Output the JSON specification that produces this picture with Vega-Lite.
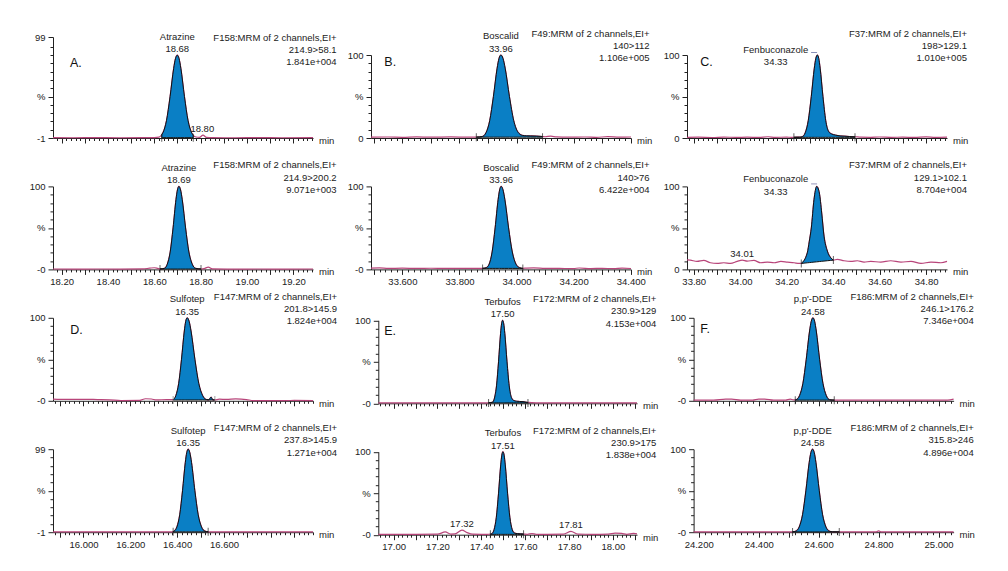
{
"$schema":"https://vega.github.io/schema/vega-lite/v6.json",
"padding":{"left":29,"top":28,"right":5,"bottom":5},
"background":"white",
"config":{
 "view":{"stroke":null},
 "font":"Liberation Sans",
 "axis":{"labelFont":"Liberation Sans","labelFontSize":9.5,"labelColor":"#222","domainColor":"#222","tickColor":"#222","tickWidth":1,"domainWidth":1,"grid":false,"titleFont":"Liberation Sans","titleFontSize":9.5,"titleFontWeight":"normal","titleColor":"#222","labelOverlap":false,"labelFlush":false},
 "axisX":{"titleAlign":"left","titleBaseline":"middle","titleY":2.5,"labelPadding":2},
 "axisY":{"labelPadding":3},
 "text":{"font":"Liberation Sans","fontSize":9.5,"color":"#222"}
},
"datasets":{
"A":[
{"k":"t","t":18.1625,"v":0.4},{"k":"t","t":18.25,"v":0.3},{"k":"t","t":18.35,"v":0.5},{"k":"t","t":18.45,"v":0.3},{"k":"t","t":18.55,"v":0.4},{"k":"t","t":18.6,"v":0.5},{"k":"t","t":18.62,"v":1.0},
{"k":"p","t":18.632,"v":3.9,"b":0.4},{"k":"p","t":18.637,"v":6.3,"b":0.4},{"k":"p","t":18.6525,"v":21,"b":0.4},{"k":"p","t":18.668,"v":50,"b":0.4},{"k":"p","t":18.6835,"v":84.1,"b":0.4},{"k":"p","t":18.6912,"v":95.8,"b":0.4},{"k":"p","t":18.699,"v":100,"b":0.4},{"k":"p","t":18.7068,"v":95.8,"b":0.4},{"k":"p","t":18.7145,"v":84.1,"b":0.4},{"k":"p","t":18.73,"v":50,"b":0.4},{"k":"p","t":18.7455,"v":21,"b":0.4},{"k":"p","t":18.761,"v":6.3,"b":0.4},{"k":"p","t":18.768,"v":3.2,"b":0.4},
{"k":"t","t":18.78,"v":1.2},{"k":"t","t":18.795,"v":0.8},{"k":"t","t":18.81,"v":3.5},{"k":"t","t":18.825,"v":0.8},{"k":"t","t":18.85,"v":0.4},{"k":"t","t":18.95,"v":0.3},{"k":"t","t":19.05,"v":0.4},{"k":"t","t":19.15,"v":0.3},{"k":"t","t":19.285,"v":0.4},
{"k":"i","t":18.632,"v":0.4},{"k":"i","t":18.768,"v":0.4},
{"k":"l","t":18.699,"v":100,"s":"Atrazine\n18.68"},{"k":"m","t":18.807,"v":3.5,"s":"18.80"},
{"k":"h","t":19.387,"v":95.7,"s":"F158:MRM of 2 channels,EI+\n214.9>58.1\n1.841e+004"},
{"k":"n","t":18.236,"v":90.3,"s":"A."}
],
"A2":[
{"k":"t","t":18.1625,"v":0.5},{"k":"t","t":18.25,"v":0.4},{"k":"t","t":18.35,"v":0.5},{"k":"t","t":18.45,"v":0.4},{"k":"t","t":18.55,"v":0.6},{"k":"t","t":18.58,"v":1.5},{"k":"t","t":18.6,"v":2.0},{"k":"t","t":18.615,"v":1.2},
{"k":"p","t":18.6245,"v":0.6,"b":0.4},{"k":"p","t":18.6435,"v":1.3,"b":0.4},{"k":"p","t":18.656,"v":6.3,"b":0.4},{"k":"p","t":18.6685,"v":21,"b":0.4},{"k":"p","t":18.681,"v":50,"b":0.4},{"k":"p","t":18.6935,"v":84.1,"b":0.4},{"k":"p","t":18.6998,"v":95.8,"b":0.4},{"k":"p","t":18.706,"v":100,"b":0.4},{"k":"p","t":18.7132,"v":95.8,"b":0.4},{"k":"p","t":18.7204,"v":84.1,"b":0.4},{"k":"p","t":18.7348,"v":50,"b":0.4},{"k":"p","t":18.7491,"v":21,"b":0.4},{"k":"p","t":18.7635,"v":6.3,"b":0.4},{"k":"p","t":18.7779,"v":1.3,"b":0.4},{"k":"p","t":18.8015,"v":0.5,"b":0.4},
{"k":"t","t":18.815,"v":1.0},{"k":"t","t":18.833,"v":2.8},{"k":"t","t":18.85,"v":0.6},{"k":"t","t":18.95,"v":0.4},{"k":"t","t":19.05,"v":0.5},{"k":"t","t":19.15,"v":0.4},{"k":"t","t":19.285,"v":0.5},
{"k":"i","t":18.6245,"v":0.4},{"k":"i","t":18.8015,"v":0.4},
{"k":"l","t":18.706,"v":100,"s":"Atrazine\n18.69"},
{"k":"h","t":19.387,"v":100,"s":"F158:MRM of 2 channels,EI+\n214.9>200.2\n9.071e+003"}
],
"B":[
{"k":"t","t":33.49,"v":1},{"k":"t","t":33.55,"v":1.2},{"k":"t","t":33.6,"v":0.8},{"k":"t","t":33.65,"v":1.3},{"k":"t","t":33.7,"v":1},{"k":"t","t":33.77,"v":1.3},{"k":"t","t":33.83,"v":1},{"k":"t","t":33.85,"v":1.1},
{"k":"p","t":33.859,"v":1.1,"b":1},{"k":"p","t":33.88,"v":1.8,"b":1},{"k":"p","t":33.893,"v":6.3,"b":1},{"k":"p","t":33.906,"v":21,"b":1},{"k":"p","t":33.919,"v":50,"b":1},{"k":"p","t":33.932,"v":84.1,"b":1},{"k":"p","t":33.9385,"v":95.8,"b":1},{"k":"p","t":33.945,"v":100,"b":1},{"k":"p","t":33.9525,"v":95.8,"b":1},{"k":"p","t":33.96,"v":84.1,"b":1},{"k":"p","t":33.975,"v":50,"b":1},{"k":"p","t":33.99,"v":21,"b":1},{"k":"p","t":34.005,"v":7,"b":1},{"k":"p","t":34.02,"v":3.2,"b":1},{"k":"p","t":34.035,"v":2.6,"b":1},{"k":"p","t":34.05,"v":2.5,"b":1},{"k":"p","t":34.07,"v":2.3,"b":1},{"k":"p","t":34.091,"v":1.8,"b":1},
{"k":"t","t":34.1,"v":1.5},{"k":"t","t":34.12,"v":2.2},{"k":"t","t":34.14,"v":1.3},{"k":"t","t":34.18,"v":1},{"k":"t","t":34.24,"v":1.2},{"k":"t","t":34.28,"v":0.8},{"k":"t","t":34.32,"v":1.6},{"k":"t","t":34.36,"v":1},{"k":"t","t":34.401,"v":1.2},
{"k":"i","t":33.859,"v":1},{"k":"i","t":34.091,"v":1},
{"k":"l","t":33.945,"v":100,"s":"Boscalid\n33.96"},
{"k":"h","t":34.466,"v":100,"s":"F49:MRM of 2 channels,EI+\n140>112\n1.106e+005"},
{"k":"n","t":33.5366,"v":91,"s":"B."}
],
"B2":[
{"k":"t","t":33.49,"v":1.5},{"k":"t","t":33.52,"v":1.8},{"k":"t","t":33.55,"v":1.2},{"k":"t","t":33.6,"v":1.5},{"k":"t","t":33.65,"v":1.2},{"k":"t","t":33.7,"v":1.4},{"k":"t","t":33.75,"v":1.2},{"k":"t","t":33.8,"v":1.3},{"k":"t","t":33.85,"v":1.2},{"k":"t","t":33.87,"v":1.2},
{"k":"p","t":33.881,"v":1.3,"b":1.2},{"k":"p","t":33.8935,"v":2,"b":1.2},{"k":"p","t":33.904,"v":6.3,"b":1.2},{"k":"p","t":33.9145,"v":21,"b":1.2},{"k":"p","t":33.925,"v":50,"b":1.2},{"k":"p","t":33.9355,"v":84.1,"b":1.2},{"k":"p","t":33.9408,"v":95.8,"b":1.2},{"k":"p","t":33.946,"v":100,"b":1.2},{"k":"p","t":33.9525,"v":95.8,"b":1.2},{"k":"p","t":33.959,"v":84.1,"b":1.2},{"k":"p","t":33.972,"v":50,"b":1.2},{"k":"p","t":33.985,"v":21,"b":1.2},{"k":"p","t":33.998,"v":6.3,"b":1.2},{"k":"p","t":34.011,"v":2,"b":1.2},{"k":"p","t":34.022,"v":1.3,"b":1.2},
{"k":"t","t":34.035,"v":1.6},{"k":"t","t":34.06,"v":1.8},{"k":"t","t":34.1,"v":1.3},{"k":"t","t":34.15,"v":1.2},{"k":"t","t":34.2,"v":1.0},{"k":"t","t":34.22,"v":1.7},{"k":"t","t":34.26,"v":1.0},{"k":"t","t":34.3,"v":1.3},{"k":"t","t":34.34,"v":0.9},{"k":"t","t":34.37,"v":1.5},{"k":"t","t":34.401,"v":1.1},
{"k":"i","t":33.881,"v":1.2},{"k":"i","t":34.022,"v":1.2},
{"k":"l","t":33.946,"v":100,"s":"Boscalid\n33.96"},
{"k":"h","t":34.466,"v":100,"s":"F49:MRM of 2 channels,EI+\n140>76\n6.422e+004"}
],
"C":[
{"k":"t","t":33.771,"v":0.8},{"k":"t","t":33.82,"v":1},{"k":"t","t":33.88,"v":0.6},{"k":"t","t":33.93,"v":1.1},{"k":"t","t":33.98,"v":0.7},{"k":"t","t":34.03,"v":1},{"k":"t","t":34.08,"v":0.7},{"k":"t","t":34.12,"v":1.5},{"k":"t","t":34.15,"v":0.8},{"k":"t","t":34.2,"v":1},{"k":"t","t":34.22,"v":0.8},
{"k":"p","t":34.231,"v":0.9,"b":0.8},{"k":"p","t":34.255,"v":1,"b":0.8},{"k":"p","t":34.267,"v":1.5,"b":0.8},{"k":"p","t":34.28,"v":6.3,"b":0.8},{"k":"p","t":34.293,"v":21,"b":0.8},{"k":"p","t":34.306,"v":50,"b":0.8},{"k":"p","t":34.319,"v":84.1,"b":0.8},{"k":"p","t":34.3255,"v":95.8,"b":0.8},{"k":"p","t":34.332,"v":100,"b":0.8},{"k":"p","t":34.338,"v":95.8,"b":0.8},{"k":"p","t":34.344,"v":84.1,"b":0.8},{"k":"p","t":34.356,"v":50,"b":0.8},{"k":"p","t":34.368,"v":21,"b":0.8},{"k":"p","t":34.38,"v":8,"b":0.8},{"k":"p","t":34.392,"v":5,"b":0.8},{"k":"p","t":34.41,"v":3.5,"b":0.8},{"k":"p","t":34.43,"v":2.5,"b":0.8},{"k":"p","t":34.45,"v":2.2,"b":0.8},{"k":"p","t":34.47,"v":1.8,"b":0.8},{"k":"p","t":34.494,"v":1.5,"b":0.8},
{"k":"t","t":34.52,"v":1},{"k":"t","t":34.56,"v":0.8},{"k":"t","t":34.6,"v":1.2},{"k":"t","t":34.65,"v":0.8},{"k":"t","t":34.7,"v":1},{"k":"t","t":34.75,"v":0.7},{"k":"t","t":34.8,"v":1.3},{"k":"t","t":34.84,"v":0.8},{"k":"t","t":34.89,"v":1},
{"k":"i","t":34.231,"v":0.8},{"k":"i","t":34.494,"v":0.8},
{"k":"l","t":34.153,"v":84,"s":"Fenbuconazole\n34.33"},
{"k":"d","t":34.318,"v":103},
{"k":"h","t":34.976,"v":100,"s":"F37:MRM of 2 channels,EI+\n198>129.1\n1.010e+005"},
{"k":"n","t":33.8284,"v":91.5,"s":"C."}
],
"C2":[
{"k":"t","t":33.771,"v":11.5},{"k":"t","t":33.7852,"v":11.2},{"k":"t","t":33.814,"v":9.6},{"k":"t","t":33.843,"v":10.8},{"k":"t","t":33.8718,"v":8},{"k":"t","t":33.9006,"v":7.2},{"k":"t","t":33.9294,"v":8},{"k":"t","t":33.958,"v":7.2},{"k":"t","t":33.987,"v":9.6},{"k":"t","t":34.0085,"v":11.2},{"k":"t","t":34.03,"v":10},{"k":"t","t":34.059,"v":10.8},{"k":"t","t":34.088,"v":8},{"k":"t","t":34.117,"v":8.8},{"k":"t","t":34.146,"v":8},{"k":"t","t":34.175,"v":9.6},{"k":"t","t":34.203,"v":8.8},{"k":"t","t":34.232,"v":8},{"k":"t","t":34.254,"v":7.2},
{"k":"p","t":34.2629,"v":7.2,"b":7.2},{"k":"p","t":34.2888,"v":20,"b":7.95},{"k":"p","t":34.2975,"v":34,"b":8.2},{"k":"p","t":34.3061,"v":50,"b":8.45},{"k":"p","t":34.3176,"v":84,"b":8.8},{"k":"p","t":34.3291,"v":100,"b":9.1},{"k":"p","t":34.3406,"v":92,"b":9.45},{"k":"p","t":34.3507,"v":68,"b":9.75},{"k":"p","t":34.3607,"v":40,"b":10},{"k":"p","t":34.3751,"v":22,"b":10.45},{"k":"p","t":34.3895,"v":14,"b":10.85},{"k":"p","t":34.401,"v":11.2,"b":11.2},
{"k":"t","t":34.418,"v":12},{"k":"t","t":34.447,"v":10.4},{"k":"t","t":34.476,"v":9.6},{"k":"t","t":34.504,"v":10.4},{"k":"t","t":34.533,"v":8.8},{"k":"t","t":34.562,"v":9.6},{"k":"t","t":34.605,"v":8.8},{"k":"t","t":34.648,"v":10.4},{"k":"t","t":34.692,"v":8.8},{"k":"t","t":34.735,"v":9.6},{"k":"t","t":34.778,"v":7.2},{"k":"t","t":34.821,"v":8.8},{"k":"t","t":34.864,"v":8},{"k":"t","t":34.89,"v":9.6},
{"k":"i","t":34.2629,"v":7.2},{"k":"i","t":34.401,"v":11.2},
{"k":"l","t":34.153,"v":86.3,"s":"Fenbuconazole\n34.33"},{"k":"m","t":34.0085,"v":11.2,"s":"34.01"},
{"k":"d","t":34.318,"v":103},
{"k":"h","t":34.976,"v":100,"s":"F37:MRM of 2 channels,EI+\n129.1>102.1\n8.704e+004"}
],
"D":[
{"k":"t","t":15.87,"v":2},{"k":"t","t":15.93,"v":1.6},{"k":"t","t":16.0,"v":1.8},{"k":"t","t":16.06,"v":1.5},{"k":"t","t":16.112,"v":1.2},{"k":"t","t":16.16,"v":0.3},{"k":"t","t":16.24,"v":0.5},{"k":"t","t":16.265,"v":2.5},{"k":"t","t":16.29,"v":2.2},{"k":"t","t":16.312,"v":1},{"k":"t","t":16.355,"v":1.5},{"k":"t","t":16.375,"v":1.3},
{"k":"p","t":16.3829,"v":1.3,"b":1},{"k":"p","t":16.3947,"v":6.3,"b":1},{"k":"p","t":16.4067,"v":21,"b":1},{"k":"p","t":16.4187,"v":50,"b":1},{"k":"p","t":16.4307,"v":84.1,"b":1},{"k":"p","t":16.4367,"v":95.8,"b":1},{"k":"p","t":16.4427,"v":100,"b":1},{"k":"p","t":16.451,"v":95.8,"b":1},{"k":"p","t":16.4592,"v":84.1,"b":1},{"k":"p","t":16.4757,"v":50,"b":1},{"k":"p","t":16.4922,"v":21,"b":1},{"k":"p","t":16.5087,"v":6.3,"b":1},{"k":"p","t":16.5252,"v":1.5,"b":1},{"k":"p","t":16.535,"v":1.2,"b":1},{"k":"p","t":16.545,"v":4.5,"b":1},{"k":"p","t":16.552,"v":1.2,"b":1},{"k":"p","t":16.561,"v":1,"b":1},
{"k":"t","t":16.58,"v":2},{"k":"t","t":16.611,"v":1.6},{"k":"t","t":16.65,"v":2.2},{"k":"t","t":16.696,"v":1.5},{"k":"t","t":16.725,"v":0.3},{"k":"t","t":16.8,"v":0.2},{"k":"t","t":16.9,"v":0.4},{"k":"t","t":16.98,"v":0.3},
{"k":"i","t":16.3829,"v":1},{"k":"i","t":16.561,"v":1},
{"k":"l","t":16.443,"v":100,"s":"Sulfotep\n16.35"},
{"k":"h","t":17.083,"v":100,"s":"F147:MRM of 2 channels,EI+\n201.8>145.9\n1.824e+004"},
{"k":"n","t":15.944,"v":85.2,"s":"D."}
],
"D2":[
{"k":"t","t":15.87,"v":0.4},{"k":"t","t":16.0,"v":0.4},{"k":"t","t":16.1,"v":0.4},{"k":"t","t":16.2,"v":0.4},{"k":"t","t":16.3,"v":0.4},{"k":"t","t":16.375,"v":0.4},
{"k":"p","t":16.3829,"v":0.7,"b":0.4},{"k":"p","t":16.387,"v":1.3,"b":0.4},{"k":"p","t":16.399,"v":6.3,"b":0.4},{"k":"p","t":16.411,"v":21,"b":0.4},{"k":"p","t":16.423,"v":50,"b":0.4},{"k":"p","t":16.435,"v":84.1,"b":0.4},{"k":"p","t":16.441,"v":95.8,"b":0.4},{"k":"p","t":16.447,"v":100,"b":0.4},{"k":"p","t":16.4541,"v":95.8,"b":0.4},{"k":"p","t":16.4613,"v":84.1,"b":0.4},{"k":"p","t":16.4755,"v":50,"b":0.4},{"k":"p","t":16.4898,"v":21,"b":0.4},{"k":"p","t":16.504,"v":6.3,"b":0.4},{"k":"p","t":16.5183,"v":1.3,"b":0.4},{"k":"p","t":16.5324,"v":0.5,"b":0.4},
{"k":"t","t":16.55,"v":0.4},{"k":"t","t":16.65,"v":0.4},{"k":"t","t":16.8,"v":0.4},{"k":"t","t":16.98,"v":0.4},
{"k":"i","t":16.3829,"v":0.4},{"k":"i","t":16.5324,"v":0.4},
{"k":"l","t":16.447,"v":100,"s":"Sulfotep\n16.35"},
{"k":"h","t":17.083,"v":100,"s":"F147:MRM of 2 channels,EI+\n237.8>145.9\n1.271e+004"}
],
"E":[
{"k":"t","t":16.93,"v":0.6},{"k":"t","t":17.05,"v":0.5},{"k":"t","t":17.2,"v":0.6},{"k":"t","t":17.35,"v":0.5},{"k":"t","t":17.42,"v":0.5},
{"k":"p","t":17.433,"v":0.6,"b":0.5},{"k":"p","t":17.4508,"v":1.3,"b":0.5},{"k":"p","t":17.46,"v":6.3,"b":0.5},{"k":"p","t":17.4693,"v":21,"b":0.5},{"k":"p","t":17.4785,"v":50,"b":0.5},{"k":"p","t":17.4878,"v":84.1,"b":0.5},{"k":"p","t":17.4924,"v":95.8,"b":0.5},{"k":"p","t":17.497,"v":100,"b":0.5},{"k":"p","t":17.502,"v":95.8,"b":0.5},{"k":"p","t":17.507,"v":84.1,"b":0.5},{"k":"p","t":17.517,"v":50,"b":0.5},{"k":"p","t":17.527,"v":21,"b":0.5},{"k":"p","t":17.537,"v":7,"b":0.5},{"k":"p","t":17.547,"v":3.5,"b":0.5},{"k":"p","t":17.56,"v":2.5,"b":0.5},{"k":"p","t":17.575,"v":2.2,"b":0.5},{"k":"p","t":17.59,"v":2,"b":0.5},{"k":"p","t":17.6126,"v":1,"b":0.5},
{"k":"t","t":17.65,"v":0.6},{"k":"t","t":17.8,"v":0.5},{"k":"t","t":17.95,"v":0.6},{"k":"t","t":18.11,"v":0.5},
{"k":"i","t":17.433,"v":0.5},{"k":"i","t":17.6126,"v":0.5},
{"k":"l","t":17.497,"v":100,"s":"Terbufos\n17.50"},
{"k":"h","t":18.198,"v":100,"s":"F172:MRM of 2 channels,EI+\n230.9>129\n4.153e+004"},
{"k":"n","t":16.957,"v":87.1,"s":"E."}
],
"E2":[
{"k":"t","t":16.93,"v":0.5},{"k":"t","t":17.0,"v":0.5},{"k":"t","t":17.1,"v":0.4},{"k":"t","t":17.2,"v":0.6},{"k":"t","t":17.2355,"v":3.3},{"k":"t","t":17.26,"v":0.8},{"k":"t","t":17.28,"v":1},{"k":"t","t":17.3116,"v":5.4},{"k":"t","t":17.335,"v":2.5},{"k":"t","t":17.36,"v":0.6},{"k":"t","t":17.4,"v":0.4},{"k":"t","t":17.43,"v":0.5},
{"k":"p","t":17.4412,"v":0.6,"b":0.4},{"k":"p","t":17.4485,"v":1.3,"b":0.4},{"k":"p","t":17.4585,"v":6.3,"b":0.4},{"k":"p","t":17.4685,"v":21,"b":0.4},{"k":"p","t":17.4785,"v":50,"b":0.4},{"k":"p","t":17.4885,"v":84.1,"b":0.4},{"k":"p","t":17.4935,"v":95.8,"b":0.4},{"k":"p","t":17.4985,"v":100,"b":0.4},{"k":"p","t":17.5038,"v":95.8,"b":0.4},{"k":"p","t":17.509,"v":84.1,"b":0.4},{"k":"p","t":17.5195,"v":50,"b":0.4},{"k":"p","t":17.53,"v":21,"b":0.4},{"k":"p","t":17.5405,"v":6.3,"b":0.4},{"k":"p","t":17.551,"v":2,"b":0.4},{"k":"p","t":17.565,"v":1.3,"b":0.4},{"k":"p","t":17.58,"v":1,"b":0.4},{"k":"p","t":17.5926,"v":0.8,"b":0.4},
{"k":"t","t":17.61,"v":0.5},{"k":"t","t":17.631,"v":1.3},{"k":"t","t":17.65,"v":0.5},{"k":"t","t":17.7,"v":0.4},{"k":"t","t":17.775,"v":0.6},{"k":"t","t":17.809,"v":4},{"k":"t","t":17.84,"v":0.6},{"k":"t","t":17.9,"v":0.5},{"k":"t","t":17.98,"v":0.8},{"k":"t","t":18.01,"v":2},{"k":"t","t":18.04,"v":1.6},{"k":"t","t":18.064,"v":0.5},{"k":"t","t":18.094,"v":1.5},{"k":"t","t":18.11,"v":1},
{"k":"i","t":17.4412,"v":0.4},{"k":"i","t":17.5926,"v":0.4},
{"k":"l","t":17.4985,"v":100,"s":"Terbufos\n17.51"},{"k":"m","t":17.3116,"v":5.4,"s":"17.32"},{"k":"m","t":17.809,"v":4,"s":"17.81"},
{"k":"h","t":18.198,"v":100,"s":"F172:MRM of 2 channels,EI+\n230.9>175\n1.838e+004"}
],
"F":[
{"k":"t","t":24.183,"v":0.8},{"k":"t","t":24.25,"v":0.8},{"k":"t","t":24.29,"v":2},{"k":"t","t":24.31,"v":2},{"k":"t","t":24.34,"v":0.8},{"k":"t","t":24.38,"v":0.8},{"k":"t","t":24.4,"v":2},{"k":"t","t":24.42,"v":2},{"k":"t","t":24.45,"v":0.8},{"k":"t","t":24.49,"v":0.8},{"k":"t","t":24.505,"v":2},{"k":"t","t":24.515,"v":1.2},
{"k":"p","t":24.522,"v":1,"b":0.8},{"k":"p","t":24.5254,"v":1.3,"b":0.8},{"k":"p","t":24.5365,"v":6.3,"b":0.8},{"k":"p","t":24.5476,"v":21,"b":0.8},{"k":"p","t":24.5587,"v":50,"b":0.8},{"k":"p","t":24.5698,"v":84.1,"b":0.8},{"k":"p","t":24.5754,"v":95.8,"b":0.8},{"k":"p","t":24.5809,"v":100,"b":0.8},{"k":"p","t":24.5865,"v":95.8,"b":0.8},{"k":"p","t":24.592,"v":84.1,"b":0.8},{"k":"p","t":24.6031,"v":50,"b":0.8},{"k":"p","t":24.6142,"v":21,"b":0.8},{"k":"p","t":24.6253,"v":6.3,"b":0.8},{"k":"p","t":24.6364,"v":1.3,"b":0.8},{"k":"p","t":24.6475,"v":0.9,"b":0.8},{"k":"p","t":24.652,"v":0.8,"b":0.8},
{"k":"t","t":24.66,"v":0.8},{"k":"t","t":24.75,"v":0.8},{"k":"t","t":24.85,"v":0.8},{"k":"t","t":24.95,"v":0.8},{"k":"t","t":25.03,"v":0.8},{"k":"t","t":25.05,"v":2},
{"k":"i","t":24.522,"v":0.8},{"k":"i","t":24.652,"v":0.8},
{"k":"l","t":24.581,"v":100,"s":"p,p'-DDE\n24.58"},
{"k":"h","t":25.117,"v":100,"s":"F186:MRM of 2 channels,EI+\n246.1>176.2\n7.346e+004"},
{"k":"n","t":24.205,"v":86,"s":"F."}
],
"F2":[
{"k":"t","t":24.183,"v":0.3},{"k":"t","t":24.3,"v":0.3},{"k":"t","t":24.4,"v":0.3},{"k":"t","t":24.5,"v":0.3},
{"k":"p","t":24.513,"v":0.4,"b":0.3},{"k":"p","t":24.5241,"v":1.3,"b":0.3},{"k":"p","t":24.5352,"v":6.3,"b":0.3},{"k":"p","t":24.5463,"v":21,"b":0.3},{"k":"p","t":24.5575,"v":50,"b":0.3},{"k":"p","t":24.5686,"v":84.1,"b":0.3},{"k":"p","t":24.5741,"v":95.8,"b":0.3},{"k":"p","t":24.5797,"v":100,"b":0.3},{"k":"p","t":24.5853,"v":95.8,"b":0.3},{"k":"p","t":24.5908,"v":84.1,"b":0.3},{"k":"p","t":24.602,"v":50,"b":0.3},{"k":"p","t":24.6131,"v":21,"b":0.3},{"k":"p","t":24.6242,"v":6.3,"b":0.3},{"k":"p","t":24.6353,"v":1.3,"b":0.3},{"k":"p","t":24.6464,"v":0.4,"b":0.3},{"k":"p","t":24.6687,"v":0.3,"b":0.3},
{"k":"t","t":24.7,"v":0.3},{"k":"t","t":24.79,"v":0.3},{"k":"t","t":24.8,"v":1.5},{"k":"t","t":24.81,"v":0.3},{"k":"t","t":24.9,"v":0.3},{"k":"t","t":25.05,"v":0.3},
{"k":"i","t":24.513,"v":0.3},{"k":"i","t":24.6687,"v":0.3},
{"k":"l","t":24.58,"v":100,"s":"p,p'-DDE\n24.58"},
{"k":"h","t":25.117,"v":100,"s":"F186:MRM of 2 channels,EI+\n315.8>246\n4.896e+004"}
]
},
"columns":3,
"align":"each",
"bounds":"flush",
"spacing":{"row":48.4,"column":50},
"concat":[
  {"width":267.7,"height":83,"data":{"name":"A"},
   "encoding":{
    "x":{"field":"t","type":"quantitative","scale":{"domain":[18.1625,19.285],"range":[0,260],"nice":false,"zero":false},"axis":{"title":"min","titleX":265.5,"labels":false,"tickCount":56,"tickSize":{"condition":{"test":"abs(datum.value*10-round(datum.value*10))<0.001","value":5},"value":2.5}}},
    "y":{"field":"v","type":"quantitative","scale":{"domain":[0,122],"range":[83,-18],"nice":false,"zero":false},"axis":{"title":null,"values":[0,10,20,30,40,50,60,70,80,90,100,110,122],"labelExpr":"datum.value==122?'99':datum.value==50?'%':datum.value==0?'-1':''","tickSize":{"condition":{"test":"datum.value==0||datum.value==50||datum.value==122","value":5},"value":3}}}},
   "layer":[
    {"transform":[{"filter":"datum.k=='t'||datum.k=='p'"}],"mark":{"type":"line","color":"#b8457a","strokeWidth":1.2,"interpolate":"monotone"}},
    {"transform":[{"filter":"datum.k=='p'"}],"mark":{"type":"area","fill":"#0a7fc5","stroke":"#111","strokeWidth":1,"interpolate":"monotone"},"encoding":{"y2":{"field":"b"}}},
    {"transform":[{"filter":"datum.k=='i'"}],"mark":{"type":"tick","orient":"vertical","size":8,"thickness":1,"color":"#222"}},
    {"transform":[{"filter":"datum.k=='l'"}],"mark":{"type":"text","align":"center","baseline":"bottom","dy":-13.7,"lineBreak":"\n","lineHeight":12.7},"encoding":{"text":{"field":"s"}}},
    {"transform":[{"filter":"datum.k=='m'"}],"mark":{"type":"text","align":"center","baseline":"bottom","dy":-1},"encoding":{"text":{"field":"s"}}},
    {"transform":[{"filter":"datum.k=='h'"}],"mark":{"type":"text","align":"right","baseline":"bottom","dy":-16.1,"lineBreak":"\n","lineHeight":12.3},"encoding":{"text":{"field":"s"}}},
    {"transform":[{"filter":"datum.k=='n'"}],"mark":{"type":"text","align":"left","baseline":"middle","fontSize":12.5,"color":"#111"},"encoding":{"text":{"field":"s"}}}
   ]},
   {"width":260,"height":83,"data":{"name":"B"},
    "encoding":{
     "x":{"field":"t","type":"quantitative","scale":{"domain":[33.49,34.401],"nice":false,"zero":false},"axis":{"title":"min","titleX":265.5,"labels":false,"tickCount":45,"tickSize":{"condition":{"test":"abs(datum.value*10-round(datum.value*10))<0.001","value":5},"value":2.5}}},
     "y":{"field":"v","type":"quantitative","scale":{"domain":[0,100],"nice":false,"zero":false},"axis":{"title":null,"values":[0,10,20,30,40,50,60,70,80,90,100],"labelExpr":"datum.value==100?'100':datum.value==50?'%':datum.value==0?'0':''","tickSize":{"condition":{"test":"datum.value==0||datum.value==50||datum.value==100","value":5},"value":3}}}},
    "layer":[
     {"transform":[{"filter":"datum.k=='t'||datum.k=='p'"}],"mark":{"type":"line","color":"#b8457a","strokeWidth":1.2,"interpolate":"monotone"}},
     {"transform":[{"filter":"datum.k=='p'"}],"mark":{"type":"area","fill":"#0a7fc5","stroke":"#111","strokeWidth":1,"interpolate":"monotone"},"encoding":{"y2":{"field":"b"}}},
     {"transform":[{"filter":"datum.k=='i'"}],"mark":{"type":"tick","orient":"vertical","size":8,"thickness":1,"color":"#222"}},
     {"transform":[{"filter":"datum.k=='l'"}],"mark":{"type":"text","align":"center","baseline":"bottom","dy":-13.7,"lineBreak":"\n","lineHeight":12.7},"encoding":{"text":{"field":"s"}}},
     {"transform":[{"filter":"datum.k=='h'"}],"mark":{"type":"text","align":"right","baseline":"bottom","dy":-16.1,"lineBreak":"\n","lineHeight":12.3},"encoding":{"text":{"field":"s"}}},
     {"transform":[{"filter":"datum.k=='n'"}],"mark":{"type":"text","align":"left","baseline":"middle","fontSize":12.5,"color":"#111"},"encoding":{"text":{"field":"s"}}}
    ]},
   {"width":260,"height":83,"data":{"name":"C"},
    "encoding":{
     "x":{"field":"t","type":"quantitative","scale":{"domain":[33.771,34.89],"nice":false,"zero":false},"axis":{"title":"min","titleX":265.5,"labels":false,"tickCount":56,"tickSize":{"condition":{"test":"abs(datum.value*10-round(datum.value*10))<0.001","value":5},"value":2.5}}},
     "y":{"field":"v","type":"quantitative","scale":{"domain":[0,100],"nice":false,"zero":false},"axis":{"title":null,"values":[0,10,20,30,40,50,60,70,80,90,100],"labelExpr":"datum.value==100?'100':datum.value==50?'%':datum.value==0?'0':''","tickSize":{"condition":{"test":"datum.value==0||datum.value==50||datum.value==100","value":5},"value":3}}}},
    "layer":[
     {"transform":[{"filter":"datum.k=='t'||datum.k=='p'"}],"mark":{"type":"line","color":"#b8457a","strokeWidth":1.2,"interpolate":"monotone"}},
     {"transform":[{"filter":"datum.k=='p'"}],"mark":{"type":"area","fill":"#0a7fc5","stroke":"#111","strokeWidth":1,"interpolate":"monotone"},"encoding":{"y2":{"field":"b"}}},
     {"transform":[{"filter":"datum.k=='i'"}],"mark":{"type":"tick","orient":"vertical","size":8,"thickness":1,"color":"#222"}},
     {"transform":[{"filter":"datum.k=='d'"}],"mark":{"type":"tick","orient":"horizontal","size":6,"thickness":1.2,"color":"#55609a"}},
     {"transform":[{"filter":"datum.k=='l'"}],"mark":{"type":"text","align":"center","baseline":"bottom","dy":-13.7,"lineBreak":"\n","lineHeight":12.7},"encoding":{"text":{"field":"s"}}},
     {"transform":[{"filter":"datum.k=='h'"}],"mark":{"type":"text","align":"right","baseline":"bottom","dy":-16.1,"lineBreak":"\n","lineHeight":12.3},"encoding":{"text":{"field":"s"}}},
     {"transform":[{"filter":"datum.k=='n'"}],"mark":{"type":"text","align":"left","baseline":"middle","fontSize":12.5,"color":"#111"},"encoding":{"text":{"field":"s"}}}
    ]},
  {"width":267.7,"height":83,"data":{"name":"A2"},
   "encoding":{
    "x":{"field":"t","type":"quantitative","scale":{"domain":[18.1625,19.285],"range":[0,260],"nice":false,"zero":false},"axis":{"title":"min","titleX":265.5,"tickCount":56,"labelExpr":"abs(datum.value*5-round(datum.value*5))<0.001?format(datum.value,'.2f'):''","tickSize":{"condition":{"test":"abs(datum.value*10-round(datum.value*10))<0.001","value":5},"value":2.5}}},
    "y":{"field":"v","type":"quantitative","scale":{"domain":[0,100],"nice":false,"zero":false},"axis":{"title":null,"values":[0,10,20,30,40,50,60,70,80,90,100],"labelExpr":"datum.value==100?'100':datum.value==50?'%':datum.value==0?'-0':''","tickSize":{"condition":{"test":"datum.value==0||datum.value==50||datum.value==100","value":5},"value":3}}}},
   "layer":[
    {"transform":[{"filter":"datum.k=='t'||datum.k=='p'"}],"mark":{"type":"line","color":"#b8457a","strokeWidth":1.2,"interpolate":"monotone"}},
    {"transform":[{"filter":"datum.k=='p'"}],"mark":{"type":"area","fill":"#0a7fc5","stroke":"#111","strokeWidth":1,"interpolate":"monotone"},"encoding":{"y2":{"field":"b"}}},
    {"transform":[{"filter":"datum.k=='i'"}],"mark":{"type":"tick","orient":"vertical","size":8,"thickness":1,"color":"#222"}},
    {"transform":[{"filter":"datum.k=='l'"}],"mark":{"type":"text","align":"center","baseline":"bottom","dy":-13.7,"lineBreak":"\n","lineHeight":12.7},"encoding":{"text":{"field":"s"}}},
    {"transform":[{"filter":"datum.k=='h'"}],"mark":{"type":"text","align":"right","baseline":"bottom","dy":-16.1,"lineBreak":"\n","lineHeight":12.3},"encoding":{"text":{"field":"s"}}}
   ]},
   {"width":260,"height":83,"data":{"name":"B2"},
    "encoding":{
     "x":{"field":"t","type":"quantitative","scale":{"domain":[33.49,34.401],"nice":false,"zero":false},"axis":{"title":"min","titleX":265.5,"tickCount":45,"labelExpr":"abs(datum.value*5-round(datum.value*5))<0.001?format(datum.value,'.3f'):''","tickSize":{"condition":{"test":"abs(datum.value*10-round(datum.value*10))<0.001","value":5},"value":2.5}}},
     "y":{"field":"v","type":"quantitative","scale":{"domain":[0,100],"nice":false,"zero":false},"axis":{"title":null,"values":[0,10,20,30,40,50,60,70,80,90,100],"labelExpr":"datum.value==100?'100':datum.value==50?'%':datum.value==0?'-0':''","tickSize":{"condition":{"test":"datum.value==0||datum.value==50||datum.value==100","value":5},"value":3}}}},
    "layer":[
     {"transform":[{"filter":"datum.k=='t'||datum.k=='p'"}],"mark":{"type":"line","color":"#b8457a","strokeWidth":1.2,"interpolate":"monotone"}},
     {"transform":[{"filter":"datum.k=='p'"}],"mark":{"type":"area","fill":"#0a7fc5","stroke":"#111","strokeWidth":1,"interpolate":"monotone"},"encoding":{"y2":{"field":"b"}}},
     {"transform":[{"filter":"datum.k=='i'"}],"mark":{"type":"tick","orient":"vertical","size":8,"thickness":1,"color":"#222"}},
     {"transform":[{"filter":"datum.k=='l'"}],"mark":{"type":"text","align":"center","baseline":"bottom","dy":-13.7,"lineBreak":"\n","lineHeight":12.7},"encoding":{"text":{"field":"s"}}},
     {"transform":[{"filter":"datum.k=='h'"}],"mark":{"type":"text","align":"right","baseline":"bottom","dy":-16.1,"lineBreak":"\n","lineHeight":12.3},"encoding":{"text":{"field":"s"}}}
    ]},
   {"width":260,"height":83,"data":{"name":"C2"},
    "encoding":{
     "x":{"field":"t","type":"quantitative","scale":{"domain":[33.771,34.89],"nice":false,"zero":false},"axis":{"title":"min","titleX":265.5,"tickCount":56,"labelExpr":"abs(datum.value*5-round(datum.value*5))<0.001?format(datum.value,'.2f'):''","tickSize":{"condition":{"test":"abs(datum.value*10-round(datum.value*10))<0.001","value":5},"value":2.5}}},
     "y":{"field":"v","type":"quantitative","scale":{"domain":[0,100],"nice":false,"zero":false},"axis":{"title":null,"values":[0,10,20,30,40,50,60,70,80,90,100],"labelExpr":"datum.value==100?'100':datum.value==50?'%':datum.value==0?'0':''","tickSize":{"condition":{"test":"datum.value==0||datum.value==50||datum.value==100","value":5},"value":3}}}},
    "layer":[
     {"transform":[{"filter":"datum.k=='t'||datum.k=='p'"}],"mark":{"type":"line","color":"#b8457a","strokeWidth":1.2,"interpolate":"monotone"}},
     {"transform":[{"filter":"datum.k=='p'"}],"mark":{"type":"area","fill":"#0a7fc5","stroke":"#111","strokeWidth":1,"interpolate":"monotone"},"encoding":{"y2":{"field":"b"}}},
     {"transform":[{"filter":"datum.k=='i'"}],"mark":{"type":"tick","orient":"vertical","size":8,"thickness":1,"color":"#222"}},
     {"transform":[{"filter":"datum.k=='d'"}],"mark":{"type":"tick","orient":"horizontal","size":6,"thickness":1.2,"color":"#8a88b0"}},
     {"transform":[{"filter":"datum.k=='l'"}],"mark":{"type":"text","align":"center","baseline":"bottom","dy":-13.7,"lineBreak":"\n","lineHeight":12.7},"encoding":{"text":{"field":"s"}}},
     {"transform":[{"filter":"datum.k=='m'"}],"mark":{"type":"text","align":"center","baseline":"bottom","dy":-1},"encoding":{"text":{"field":"s"}}},
     {"transform":[{"filter":"datum.k=='h'"}],"mark":{"type":"text","align":"right","baseline":"bottom","dy":-16.1,"lineBreak":"\n","lineHeight":12.3},"encoding":{"text":{"field":"s"}}}
    ]},
  {"width":267.7,"height":83,"data":{"name":"D"},
   "encoding":{
    "x":{"field":"t","type":"quantitative","scale":{"domain":[15.87,16.98],"range":[0,260],"nice":false,"zero":false},"axis":{"title":"min","titleX":265.5,"labels":false,"tickCount":55,"tickSize":{"condition":{"test":"abs(datum.value*10-round(datum.value*10))<0.001","value":5},"value":2.5}}},
    "y":{"field":"v","type":"quantitative","scale":{"domain":[0,100],"nice":false,"zero":false},"axis":{"title":null,"values":[0,10,20,30,40,50,60,70,80,90,100],"labelExpr":"datum.value==100?'100':datum.value==50?'%':datum.value==0?'-0':''","tickSize":{"condition":{"test":"datum.value==0||datum.value==50||datum.value==100","value":5},"value":3}}}},
   "layer":[
    {"transform":[{"filter":"datum.k=='t'||datum.k=='p'"}],"mark":{"type":"line","color":"#b8457a","strokeWidth":1.2,"interpolate":"monotone"}},
    {"transform":[{"filter":"datum.k=='p'"}],"mark":{"type":"area","fill":"#0a7fc5","stroke":"#111","strokeWidth":1,"interpolate":"monotone"},"encoding":{"y2":{"field":"b"}}},
    {"transform":[{"filter":"datum.k=='i'"}],"mark":{"type":"tick","orient":"vertical","size":8,"thickness":1,"color":"#777"}},
    {"transform":[{"filter":"datum.k=='l'"}],"mark":{"type":"text","align":"center","baseline":"bottom","dy":-13.7,"lineBreak":"\n","lineHeight":12.7},"encoding":{"text":{"field":"s"}}},
    {"transform":[{"filter":"datum.k=='h'"}],"mark":{"type":"text","align":"right","baseline":"bottom","dy":-16.1,"lineBreak":"\n","lineHeight":12.3},"encoding":{"text":{"field":"s"}}},
    {"transform":[{"filter":"datum.k=='n'"}],"mark":{"type":"text","align":"left","baseline":"middle","fontSize":12.5,"color":"#111"},"encoding":{"text":{"field":"s"}}}
   ]},
   {"width":266,"height":83,"data":{"name":"E"},
    "encoding":{
     "x":{"field":"t","type":"quantitative","scale":{"domain":[16.93,18.11],"range":[7.3,266],"nice":false,"zero":false},"axis":{"title":"min","titleX":271.5,"offset":2.5,"labels":false,"tickCount":59,"tickSize":{"condition":{"test":"abs(datum.value*10-round(datum.value*10))<0.001","value":5},"value":2.5}}},
     "y":{"field":"v","type":"quantitative","scale":{"domain":[0,100],"range":[85.5,2.5],"nice":false,"zero":false},"axis":{"title":null,"offset":-7.3,"values":[0,10,20,30,40,50,60,70,80,90,100],"labelExpr":"datum.value==100?'100':datum.value==50?'%':datum.value==0?'-0':''","tickSize":{"condition":{"test":"datum.value==0||datum.value==50||datum.value==100","value":5},"value":3}}}},
    "layer":[
     {"transform":[{"filter":"datum.k=='t'||datum.k=='p'"}],"mark":{"type":"line","color":"#b8457a","strokeWidth":1.2,"interpolate":"monotone"}},
     {"transform":[{"filter":"datum.k=='p'"}],"mark":{"type":"area","fill":"#0a7fc5","stroke":"#111","strokeWidth":1,"interpolate":"monotone"},"encoding":{"y2":{"field":"b"}}},
     {"transform":[{"filter":"datum.k=='i'"}],"mark":{"type":"tick","orient":"vertical","size":8,"thickness":1,"color":"#222"}},
     {"transform":[{"filter":"datum.k=='l'"}],"mark":{"type":"text","align":"center","baseline":"bottom","dy":-13.7,"lineBreak":"\n","lineHeight":12.7},"encoding":{"text":{"field":"s"}}},
     {"transform":[{"filter":"datum.k=='h'"}],"mark":{"type":"text","align":"right","baseline":"bottom","dy":-16.1,"lineBreak":"\n","lineHeight":12.3},"encoding":{"text":{"field":"s"}}},
     {"transform":[{"filter":"datum.k=='n'"}],"mark":{"type":"text","align":"left","baseline":"middle","fontSize":12.5,"color":"#111"},"encoding":{"text":{"field":"s"}}}
    ]},
   {"width":266.6,"height":83,"data":{"name":"F"},
    "encoding":{
     "x":{"field":"t","type":"quantitative","scale":{"domain":[24.183,25.05],"range":[6.6,266.6],"nice":false,"zero":false},"axis":{"title":"min","titleX":272.1,"labels":false,"tickCount":43,"tickSize":{"condition":{"test":"abs(datum.value*10-round(datum.value*10))<0.001","value":5},"value":2.5}}},
     "y":{"field":"v","type":"quantitative","scale":{"domain":[0,100],"nice":false,"zero":false},"axis":{"title":null,"offset":-6.6,"values":[0,10,20,30,40,50,60,70,80,90,100],"labelExpr":"datum.value==100?'100':datum.value==50?'%':datum.value==0?'-0':''","tickSize":{"condition":{"test":"datum.value==0||datum.value==50||datum.value==100","value":5},"value":3}}}},
    "layer":[
     {"transform":[{"filter":"datum.k=='t'||datum.k=='p'"}],"mark":{"type":"line","color":"#b8457a","strokeWidth":1.2,"interpolate":"monotone"}},
     {"transform":[{"filter":"datum.k=='p'"}],"mark":{"type":"area","fill":"#0a7fc5","stroke":"#111","strokeWidth":1,"interpolate":"monotone"},"encoding":{"y2":{"field":"b"}}},
     {"transform":[{"filter":"datum.k=='i'"}],"mark":{"type":"tick","orient":"vertical","size":8,"thickness":1,"color":"#222"}},
     {"transform":[{"filter":"datum.k=='l'"}],"mark":{"type":"text","align":"center","baseline":"bottom","dy":-13.7,"lineBreak":"\n","lineHeight":12.7},"encoding":{"text":{"field":"s"}}},
     {"transform":[{"filter":"datum.k=='h'"}],"mark":{"type":"text","align":"right","baseline":"bottom","dy":-16.1,"lineBreak":"\n","lineHeight":12.3},"encoding":{"text":{"field":"s"}}},
     {"transform":[{"filter":"datum.k=='n'"}],"mark":{"type":"text","align":"left","baseline":"middle","fontSize":12.5,"color":"#111"},"encoding":{"text":{"field":"s"}}}
    ]},
  {"width":267.7,"height":83,"data":{"name":"D2"},
   "encoding":{
    "x":{"field":"t","type":"quantitative","scale":{"domain":[15.87,16.98],"range":[0,260],"nice":false,"zero":false},"axis":{"title":"min","titleX":265.5,"tickCount":55,"labelExpr":"abs(datum.value*5-round(datum.value*5))<0.001&&datum.value<16.7?format(datum.value,'.3f'):''","tickSize":{"condition":{"test":"abs(datum.value*10-round(datum.value*10))<0.001","value":5},"value":2.5}}},
    "y":{"field":"v","type":"quantitative","scale":{"domain":[0,100],"nice":false,"zero":false},"axis":{"title":null,"values":[0,10,20,30,40,50,60,70,80,90,100],"labelExpr":"datum.value==100?'99':datum.value==50?'%':datum.value==0?'-1':''","tickSize":{"condition":{"test":"datum.value==0||datum.value==50||datum.value==100","value":5},"value":3}}}},
   "layer":[
    {"transform":[{"filter":"datum.k=='t'||datum.k=='p'"}],"mark":{"type":"line","color":"#b8457a","strokeWidth":1.2,"interpolate":"monotone"}},
    {"transform":[{"filter":"datum.k=='p'"}],"mark":{"type":"area","fill":"#0a7fc5","stroke":"#111","strokeWidth":1,"interpolate":"monotone"},"encoding":{"y2":{"field":"b"}}},
    {"transform":[{"filter":"datum.k=='i'"}],"mark":{"type":"tick","orient":"vertical","size":8,"thickness":1,"color":"#222"}},
    {"transform":[{"filter":"datum.k=='l'"}],"mark":{"type":"text","align":"center","baseline":"bottom","dy":-13.7,"lineBreak":"\n","lineHeight":12.7},"encoding":{"text":{"field":"s"}}},
    {"transform":[{"filter":"datum.k=='h'"}],"mark":{"type":"text","align":"right","baseline":"bottom","dy":-16.1,"lineBreak":"\n","lineHeight":12.3},"encoding":{"text":{"field":"s"}}}
   ]},
   {"width":266,"height":83,"data":{"name":"E2"},
    "encoding":{
     "x":{"field":"t","type":"quantitative","scale":{"domain":[16.93,18.11],"range":[7.3,266],"nice":false,"zero":false},"axis":{"title":"min","titleX":271.5,"offset":2.5,"tickCount":59,"labelExpr":"abs(datum.value*5-round(datum.value*5))<0.001?format(datum.value,'.2f'):''","tickSize":{"condition":{"test":"abs(datum.value*10-round(datum.value*10))<0.001","value":5},"value":2.5}}},
     "y":{"field":"v","type":"quantitative","scale":{"domain":[0,100],"range":[85.5,2.5],"nice":false,"zero":false},"axis":{"title":null,"offset":-7.3,"values":[0,10,20,30,40,50,60,70,80,90,100],"labelExpr":"datum.value==100?'100':datum.value==50?'%':datum.value==0?'-0':''","tickSize":{"condition":{"test":"datum.value==0||datum.value==50||datum.value==100","value":5},"value":3}}}},
    "layer":[
     {"transform":[{"filter":"datum.k=='t'||datum.k=='p'"}],"mark":{"type":"line","color":"#b8457a","strokeWidth":1.2,"interpolate":"monotone"}},
     {"transform":[{"filter":"datum.k=='p'"}],"mark":{"type":"area","fill":"#0a7fc5","stroke":"#111","strokeWidth":1,"interpolate":"monotone"},"encoding":{"y2":{"field":"b"}}},
     {"transform":[{"filter":"datum.k=='i'"}],"mark":{"type":"tick","orient":"vertical","size":8,"thickness":1,"color":"#222"}},
     {"transform":[{"filter":"datum.k=='l'"}],"mark":{"type":"text","align":"center","baseline":"bottom","dy":-13.7,"lineBreak":"\n","lineHeight":12.7},"encoding":{"text":{"field":"s"}}},
     {"transform":[{"filter":"datum.k=='m'"}],"mark":{"type":"text","align":"center","baseline":"bottom","dy":-1},"encoding":{"text":{"field":"s"}}},
     {"transform":[{"filter":"datum.k=='h'"}],"mark":{"type":"text","align":"right","baseline":"bottom","dy":-16.1,"lineBreak":"\n","lineHeight":12.3},"encoding":{"text":{"field":"s"}}}
    ]},
   {"width":266.6,"height":83,"data":{"name":"F2"},
    "encoding":{
     "x":{"field":"t","type":"quantitative","scale":{"domain":[24.183,25.05],"range":[6.6,266.6],"nice":false,"zero":false},"axis":{"title":"min","titleX":272.1,"tickCount":43,"labelExpr":"abs(datum.value*5-round(datum.value*5))<0.001?format(datum.value,'.3f'):''","tickSize":{"condition":{"test":"abs(datum.value*10-round(datum.value*10))<0.001","value":5},"value":2.5}}},
     "y":{"field":"v","type":"quantitative","scale":{"domain":[0,100],"nice":false,"zero":false},"axis":{"title":null,"offset":-6.6,"values":[0,10,20,30,40,50,60,70,80,90,100],"labelExpr":"datum.value==100?'100':datum.value==50?'%':datum.value==0?'-0':''","tickSize":{"condition":{"test":"datum.value==0||datum.value==50||datum.value==100","value":5},"value":3}}}},
    "layer":[
     {"transform":[{"filter":"datum.k=='t'||datum.k=='p'"}],"mark":{"type":"line","color":"#b8457a","strokeWidth":1.2,"interpolate":"monotone"}},
     {"transform":[{"filter":"datum.k=='p'"}],"mark":{"type":"area","fill":"#0a7fc5","stroke":"#111","strokeWidth":1,"interpolate":"monotone"},"encoding":{"y2":{"field":"b"}}},
     {"transform":[{"filter":"datum.k=='i'"}],"mark":{"type":"tick","orient":"vertical","size":8,"thickness":1,"color":"#222"}},
     {"transform":[{"filter":"datum.k=='l'"}],"mark":{"type":"text","align":"center","baseline":"bottom","dy":-13.7,"lineBreak":"\n","lineHeight":12.7},"encoding":{"text":{"field":"s"}}},
     {"transform":[{"filter":"datum.k=='h'"}],"mark":{"type":"text","align":"right","baseline":"bottom","dy":-16.1,"lineBreak":"\n","lineHeight":12.3},"encoding":{"text":{"field":"s"}}}
    ]}
]
}
